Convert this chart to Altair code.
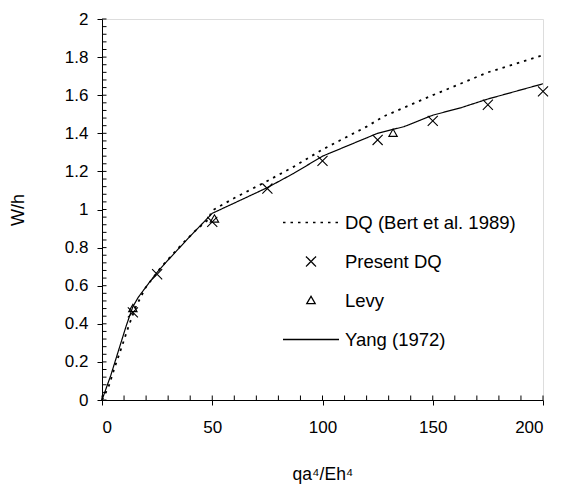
import altair as alt
import pandas as pd

# ---------------- data ----------------
series_names = ["DQ (Bert et al. 1989)", "Present DQ", "Levy", "Yang (1972)"]

bert_x = [0, 3, 6, 9, 12, 15, 19.5, 27, 36, 42, 48, 50, 60, 75, 87, 100, 120, 128, 150, 175, 200]
bert_y = [0, 0.07, 0.18, 0.28, 0.385, 0.48, 0.585, 0.70, 0.815, 0.885, 0.945, 0.995,
          1.06, 1.15, 1.225, 1.315, 1.435, 1.49, 1.60, 1.72, 1.81]

yang_x = [0, 4, 7.5, 11, 14, 16.5, 21, 25, 30, 40, 50, 63, 75, 87, 100, 125, 137, 150, 163, 175, 200]
yang_y = [0, 0.13, 0.26, 0.39, 0.49, 0.54, 0.61, 0.67, 0.735, 0.86, 0.98, 1.05, 1.115,
          1.19, 1.28, 1.40, 1.435, 1.495, 1.535, 1.58, 1.66]

dq_x = [14, 25, 50, 75, 100, 125, 150, 175, 200]
dq_y = [0.46, 0.66, 0.935, 1.11, 1.255, 1.365, 1.465, 1.55, 1.62]

levy_x = [14, 51, 132]
levy_y = [0.48, 0.95, 1.40]

x_major = [0, 50, 100, 150, 200]
y_major = [round(i * 0.2, 1) for i in range(11)]
x_minor = list(range(0, 201, 10))
y_minor = [round(i * 0.04, 2) for i in range(51)]

# ---------------- tables ----------------
bert_df = pd.DataFrame({"x": bert_x, "y": bert_y, "series": series_names[0]})
yang_df = pd.DataFrame({"x": yang_x, "y": yang_y, "series": series_names[3]})
pts_df = pd.concat([
    pd.DataFrame({"x": dq_x, "y": dq_y, "series": series_names[1]}),
    pd.DataFrame({"x": levy_x, "y": levy_y, "series": series_names[2]}),
])
xtick_df = pd.DataFrame({"v": x_minor})
ytick_df = pd.DataFrame({"v": y_minor})

W, H = 441, 381
FONT = "Liberation Sans"
SYM = 3136  # symbol area -> 56 px legend line
TICK_IN = 4.5

CROSS = "M-0.18,-0.18L0.18,0.18M0.18,-0.18L-0.18,0.18"
TRI = "M0,-0.15L0.15,0.11L-0.15,0.11Z"

dash_scale = alt.Scale(domain=series_names, range=[[2.5, 5], [1, 0], [1, 0], [1, 0]])
shape_scale = alt.Scale(domain=series_names, range=["stroke", CROSS, TRI, "stroke"])

legend = alt.Legend(
    title=None, orient="none", legendX=180, legendY=184, clipHeight=39, rowPadding=0,
    symbolSize=SYM, symbolStrokeWidth=1.3, symbolStrokeColor="black",
    symbolFillColor="transparent", labelFont=FONT, labelFontSize=18.5,
    labelColor="black", labelOffset=5, padding=0, symbolOffset=0, labelLimit=0,
)

xscale = alt.Scale(domain=[0, 200], nice=False, zero=False)
yscale = alt.Scale(domain=[0, 2], nice=False, zero=False)

x_axis_main = alt.Axis(
    orient="bottom", values=x_major, tickSize=5, tickColor="black", domainColor="black",
    labelFont=FONT, labelFontSize=17, labelColor="black", labelPadding=14,
    title="qa\u2074/Eh\u2074", titleFont=FONT, titleFontSize=17.5, titleFontWeight="normal",
    titleColor="black", titlePadding=30, grid=False, format="~r", labelOverlap=False,
)
y_axis_main = alt.Axis(
    orient="left", values=y_major, tickSize=5, tickColor="black", domainColor="black",
    labelFont=FONT, labelFontSize=17, labelColor="black", labelPadding=9,
    title="W/h", titleFont=FONT, titleFontSize=18, titleFontWeight="normal",
    titleColor="black", titlePadding=37, grid=False, format="~r", labelOverlap=False,
)

bert = alt.Chart(bert_df).mark_line(color="black", strokeWidth=1.8).encode(
    x=alt.X("x:Q", scale=xscale, axis=x_axis_main),
    y=alt.Y("y:Q", scale=yscale, axis=y_axis_main),
    strokeDash=alt.StrokeDash("series:N", scale=dash_scale, legend=legend),
)

yang = alt.Chart(yang_df).mark_line(color="black", strokeWidth=1.2).encode(
    x=alt.X("x:Q", scale=xscale, axis=None),
    y=alt.Y("y:Q", scale=yscale, axis=None),
    strokeDash=alt.StrokeDash("series:N", scale=dash_scale, legend=legend),
)

pts = alt.Chart(pts_df).mark_point(filled=False, fill="transparent", color="black", size=SYM,
                                   strokeWidth=1.1, opacity=1).encode(
    x=alt.X("x:Q", scale=xscale, axis=None),
    y=alt.Y("y:Q", scale=yscale, axis=None),
    shape=alt.Shape("series:N", scale=shape_scale, legend=legend),
)

# inward-pointing axis ticks (tick positions go through the same scales)
xticks_in = alt.Chart(xtick_df).mark_tick(
    color="black", thickness=1, size=TICK_IN, orient="vertical", opacity=1
).encode(
    x=alt.X("v:Q", scale=xscale, axis=None),
    y=alt.value(H - TICK_IN / 2),
)
yticks_in = alt.Chart(ytick_df).mark_tick(
    color="black", thickness=1, size=TICK_IN, orient="horizontal", opacity=1
).encode(
    y=alt.Y("v:Q", scale=yscale, axis=None),
    x=alt.value(TICK_IN / 2),
)

chart = (
    alt.layer(bert, yang, pts, xticks_in, yticks_in)
    .resolve_axis(x="independent", y="independent")
    .properties(
        width=W, height=H,
        autosize=alt.AutoSizeParams(type="none"),
        padding={"left": 94, "top": 11, "right": 10, "bottom": 88},
    )
    .configure_view(stroke="black", strokeWidth=1)
    .configure(background="white")
)

chart.save("out.html", embed_options={"renderer": "svg", "actions": False})
